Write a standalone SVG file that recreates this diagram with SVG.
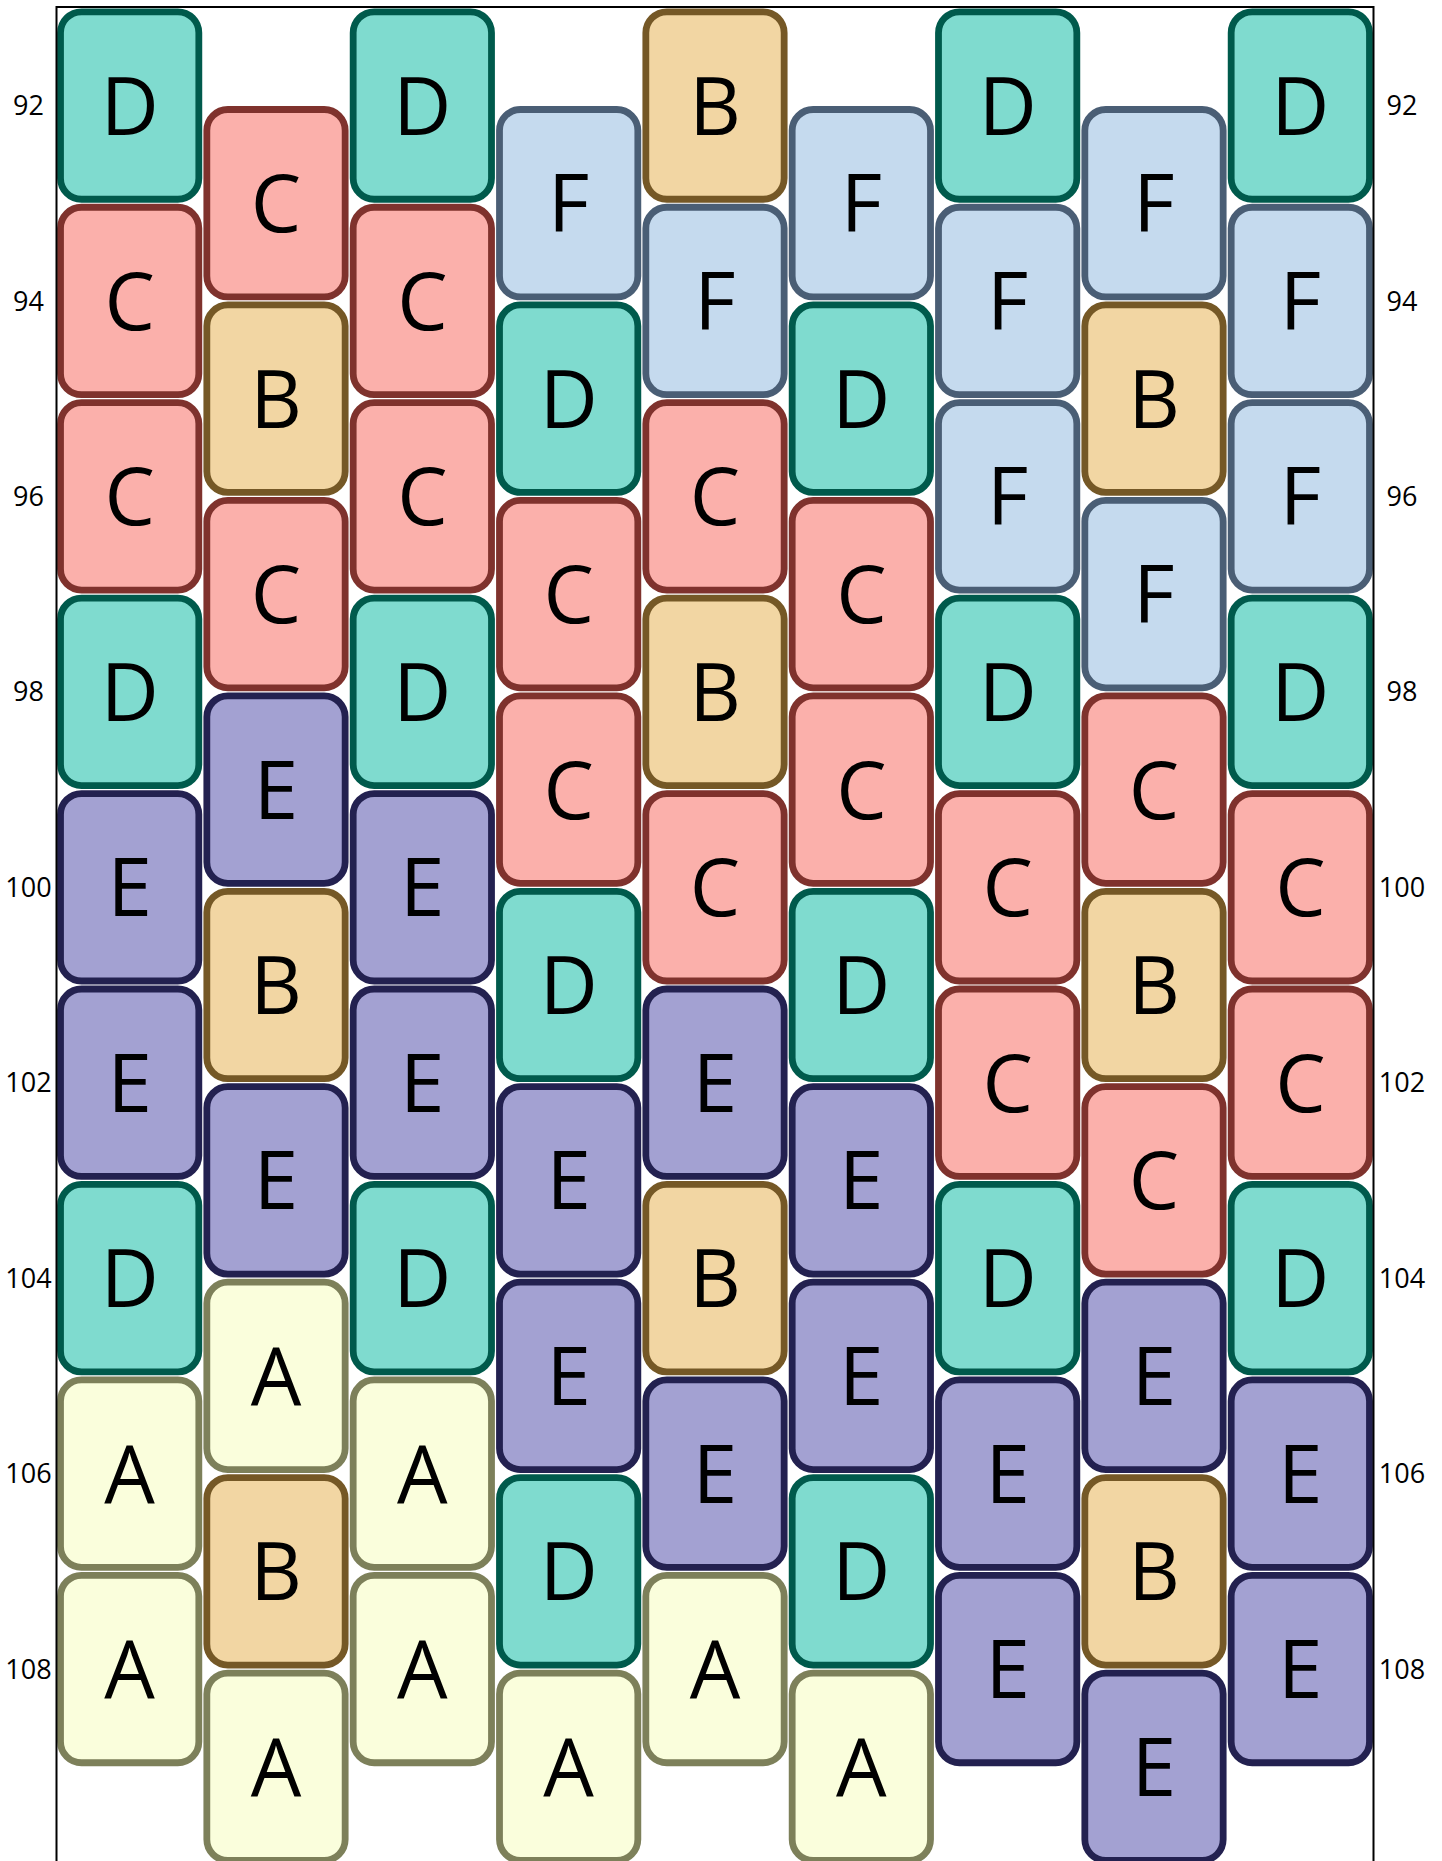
<svg xmlns="http://www.w3.org/2000/svg" width="1442" height="1861" viewBox="0 0 1442 1861">
<style>
.nd rect{stroke-width:6.8;rx:21px;ry:21px}
.A{fill:#fafedc;stroke:#7d805a}
.B{fill:#f2d6a3;stroke:#755826}
.C{fill:#fbb0ab;stroke:#7f322d}
.D{fill:#7fdbcf;stroke:#005a4c}
.E{fill:#a3a1d2;stroke:#232150}
.F{fill:#c5daee;stroke:#4a5e75}
.lbl{font-family:"Open Sans","Noto Sans","DejaVu Sans",sans-serif;font-size:80px;text-anchor:middle;fill:#000}
.tick{font-family:"Open Sans","Noto Sans","DejaVu Sans",sans-serif;font-size:27px;text-anchor:middle;fill:#000}
.frame{fill:none;stroke:#000;stroke-width:2}
</style>
<rect x="0" y="0" width="1442" height="1861" fill="#fff"/>
<g id="nodes" class="nd">
<!-- column 0 -->
<g id="c0-92"><rect class="D" x="60.5" y="11.8" width="138.33" height="187.44"/><text class="lbl" x="129.67" y="134.5">D</text></g>
<g id="c0-94"><rect class="C" x="60.5" y="207.24" width="138.33" height="187.44"/><text class="lbl" x="129.67" y="330">C</text></g>
<g id="c0-96"><rect class="C" x="60.5" y="402.68" width="138.33" height="187.44"/><text class="lbl" x="129.67" y="525.4">C</text></g>
<g id="c0-98"><rect class="D" x="60.5" y="598.12" width="138.33" height="187.44"/><text class="lbl" x="129.67" y="720.8">D</text></g>
<g id="c0-100"><rect class="E" x="60.5" y="793.56" width="138.33" height="187.44"/><text class="lbl" x="129.67" y="916.3">E</text></g>
<g id="c0-102"><rect class="E" x="60.5" y="989" width="138.33" height="187.44"/><text class="lbl" x="129.67" y="1111.7">E</text></g>
<g id="c0-104"><rect class="D" x="60.5" y="1184.44" width="138.33" height="187.44"/><text class="lbl" x="129.67" y="1307.2">D</text></g>
<g id="c0-106"><rect class="A" x="60.5" y="1379.88" width="138.33" height="187.44"/><text class="lbl" x="129.67" y="1502.6">A</text></g>
<g id="c0-108"><rect class="A" x="60.5" y="1575.32" width="138.33" height="187.44"/><text class="lbl" x="129.67" y="1698">A</text></g>
<!-- column 1 -->
<g id="c1-93"><rect class="C" x="206.83" y="109.52" width="138.33" height="187.44"/><text class="lbl" x="276" y="232.2">C</text></g>
<g id="c1-95"><rect class="B" x="206.83" y="304.96" width="138.33" height="187.44"/><text class="lbl" x="276" y="427.7">B</text></g>
<g id="c1-97"><rect class="C" x="206.83" y="500.4" width="138.33" height="187.44"/><text class="lbl" x="276" y="623.1">C</text></g>
<g id="c1-99"><rect class="E" x="206.83" y="695.84" width="138.33" height="187.44"/><text class="lbl" x="276" y="818.6">E</text></g>
<g id="c1-101"><rect class="B" x="206.83" y="891.28" width="138.33" height="187.44"/><text class="lbl" x="276" y="1014">B</text></g>
<g id="c1-103"><rect class="E" x="206.83" y="1086.72" width="138.33" height="187.44"/><text class="lbl" x="276" y="1209.4">E</text></g>
<g id="c1-105"><rect class="A" x="206.83" y="1282.16" width="138.33" height="187.44"/><text class="lbl" x="276" y="1404.9">A</text></g>
<g id="c1-107"><rect class="B" x="206.83" y="1477.6" width="138.33" height="187.44"/><text class="lbl" x="276" y="1600.3">B</text></g>
<g id="c1-109"><rect class="A" x="206.83" y="1673.04" width="138.33" height="187.44"/><text class="lbl" x="276" y="1795.8">A</text></g>
<!-- column 2 -->
<g id="c2-92"><rect class="D" x="353.17" y="11.8" width="138.33" height="187.44"/><text class="lbl" x="422.33" y="134.5">D</text></g>
<g id="c2-94"><rect class="C" x="353.17" y="207.24" width="138.33" height="187.44"/><text class="lbl" x="422.33" y="330">C</text></g>
<g id="c2-96"><rect class="C" x="353.17" y="402.68" width="138.33" height="187.44"/><text class="lbl" x="422.33" y="525.4">C</text></g>
<g id="c2-98"><rect class="D" x="353.17" y="598.12" width="138.33" height="187.44"/><text class="lbl" x="422.33" y="720.8">D</text></g>
<g id="c2-100"><rect class="E" x="353.17" y="793.56" width="138.33" height="187.44"/><text class="lbl" x="422.33" y="916.3">E</text></g>
<g id="c2-102"><rect class="E" x="353.17" y="989" width="138.33" height="187.44"/><text class="lbl" x="422.33" y="1111.7">E</text></g>
<g id="c2-104"><rect class="D" x="353.17" y="1184.44" width="138.33" height="187.44"/><text class="lbl" x="422.33" y="1307.2">D</text></g>
<g id="c2-106"><rect class="A" x="353.17" y="1379.88" width="138.33" height="187.44"/><text class="lbl" x="422.33" y="1502.6">A</text></g>
<g id="c2-108"><rect class="A" x="353.17" y="1575.32" width="138.33" height="187.44"/><text class="lbl" x="422.33" y="1698">A</text></g>
<!-- column 3 -->
<g id="c3-93"><rect class="F" x="499.5" y="109.52" width="138.33" height="187.44"/><text class="lbl" x="568.67" y="232.2">F</text></g>
<g id="c3-95"><rect class="D" x="499.5" y="304.96" width="138.33" height="187.44"/><text class="lbl" x="568.67" y="427.7">D</text></g>
<g id="c3-97"><rect class="C" x="499.5" y="500.4" width="138.33" height="187.44"/><text class="lbl" x="568.67" y="623.1">C</text></g>
<g id="c3-99"><rect class="C" x="499.5" y="695.84" width="138.33" height="187.44"/><text class="lbl" x="568.67" y="818.6">C</text></g>
<g id="c3-101"><rect class="D" x="499.5" y="891.28" width="138.33" height="187.44"/><text class="lbl" x="568.67" y="1014">D</text></g>
<g id="c3-103"><rect class="E" x="499.5" y="1086.72" width="138.33" height="187.44"/><text class="lbl" x="568.67" y="1209.4">E</text></g>
<g id="c3-105"><rect class="E" x="499.5" y="1282.16" width="138.33" height="187.44"/><text class="lbl" x="568.67" y="1404.9">E</text></g>
<g id="c3-107"><rect class="D" x="499.5" y="1477.6" width="138.33" height="187.44"/><text class="lbl" x="568.67" y="1600.3">D</text></g>
<g id="c3-109"><rect class="A" x="499.5" y="1673.04" width="138.33" height="187.44"/><text class="lbl" x="568.67" y="1795.8">A</text></g>
<!-- column 4 -->
<g id="c4-92"><rect class="B" x="645.83" y="11.8" width="138.33" height="187.44"/><text class="lbl" x="715" y="134.5">B</text></g>
<g id="c4-94"><rect class="F" x="645.83" y="207.24" width="138.33" height="187.44"/><text class="lbl" x="715" y="330">F</text></g>
<g id="c4-96"><rect class="C" x="645.83" y="402.68" width="138.33" height="187.44"/><text class="lbl" x="715" y="525.4">C</text></g>
<g id="c4-98"><rect class="B" x="645.83" y="598.12" width="138.33" height="187.44"/><text class="lbl" x="715" y="720.8">B</text></g>
<g id="c4-100"><rect class="C" x="645.83" y="793.56" width="138.33" height="187.44"/><text class="lbl" x="715" y="916.3">C</text></g>
<g id="c4-102"><rect class="E" x="645.83" y="989" width="138.33" height="187.44"/><text class="lbl" x="715" y="1111.7">E</text></g>
<g id="c4-104"><rect class="B" x="645.83" y="1184.44" width="138.33" height="187.44"/><text class="lbl" x="715" y="1307.2">B</text></g>
<g id="c4-106"><rect class="E" x="645.83" y="1379.88" width="138.33" height="187.44"/><text class="lbl" x="715" y="1502.6">E</text></g>
<g id="c4-108"><rect class="A" x="645.83" y="1575.32" width="138.33" height="187.44"/><text class="lbl" x="715" y="1698">A</text></g>
<!-- column 5 -->
<g id="c5-93"><rect class="F" x="792.17" y="109.52" width="138.33" height="187.44"/><text class="lbl" x="861.33" y="232.2">F</text></g>
<g id="c5-95"><rect class="D" x="792.17" y="304.96" width="138.33" height="187.44"/><text class="lbl" x="861.33" y="427.7">D</text></g>
<g id="c5-97"><rect class="C" x="792.17" y="500.4" width="138.33" height="187.44"/><text class="lbl" x="861.33" y="623.1">C</text></g>
<g id="c5-99"><rect class="C" x="792.17" y="695.84" width="138.33" height="187.44"/><text class="lbl" x="861.33" y="818.6">C</text></g>
<g id="c5-101"><rect class="D" x="792.17" y="891.28" width="138.33" height="187.44"/><text class="lbl" x="861.33" y="1014">D</text></g>
<g id="c5-103"><rect class="E" x="792.17" y="1086.72" width="138.33" height="187.44"/><text class="lbl" x="861.33" y="1209.4">E</text></g>
<g id="c5-105"><rect class="E" x="792.17" y="1282.16" width="138.33" height="187.44"/><text class="lbl" x="861.33" y="1404.9">E</text></g>
<g id="c5-107"><rect class="D" x="792.17" y="1477.6" width="138.33" height="187.44"/><text class="lbl" x="861.33" y="1600.3">D</text></g>
<g id="c5-109"><rect class="A" x="792.17" y="1673.04" width="138.33" height="187.44"/><text class="lbl" x="861.33" y="1795.8">A</text></g>
<!-- column 6 -->
<g id="c6-92"><rect class="D" x="938.5" y="11.8" width="138.33" height="187.44"/><text class="lbl" x="1007.67" y="134.5">D</text></g>
<g id="c6-94"><rect class="F" x="938.5" y="207.24" width="138.33" height="187.44"/><text class="lbl" x="1007.67" y="330">F</text></g>
<g id="c6-96"><rect class="F" x="938.5" y="402.68" width="138.33" height="187.44"/><text class="lbl" x="1007.67" y="525.4">F</text></g>
<g id="c6-98"><rect class="D" x="938.5" y="598.12" width="138.33" height="187.44"/><text class="lbl" x="1007.67" y="720.8">D</text></g>
<g id="c6-100"><rect class="C" x="938.5" y="793.56" width="138.33" height="187.44"/><text class="lbl" x="1007.67" y="916.3">C</text></g>
<g id="c6-102"><rect class="C" x="938.5" y="989" width="138.33" height="187.44"/><text class="lbl" x="1007.67" y="1111.7">C</text></g>
<g id="c6-104"><rect class="D" x="938.5" y="1184.44" width="138.33" height="187.44"/><text class="lbl" x="1007.67" y="1307.2">D</text></g>
<g id="c6-106"><rect class="E" x="938.5" y="1379.88" width="138.33" height="187.44"/><text class="lbl" x="1007.67" y="1502.6">E</text></g>
<g id="c6-108"><rect class="E" x="938.5" y="1575.32" width="138.33" height="187.44"/><text class="lbl" x="1007.67" y="1698">E</text></g>
<!-- column 7 -->
<g id="c7-93"><rect class="F" x="1084.83" y="109.52" width="138.33" height="187.44"/><text class="lbl" x="1154" y="232.2">F</text></g>
<g id="c7-95"><rect class="B" x="1084.83" y="304.96" width="138.33" height="187.44"/><text class="lbl" x="1154" y="427.7">B</text></g>
<g id="c7-97"><rect class="F" x="1084.83" y="500.4" width="138.33" height="187.44"/><text class="lbl" x="1154" y="623.1">F</text></g>
<g id="c7-99"><rect class="C" x="1084.83" y="695.84" width="138.33" height="187.44"/><text class="lbl" x="1154" y="818.6">C</text></g>
<g id="c7-101"><rect class="B" x="1084.83" y="891.28" width="138.33" height="187.44"/><text class="lbl" x="1154" y="1014">B</text></g>
<g id="c7-103"><rect class="C" x="1084.83" y="1086.72" width="138.33" height="187.44"/><text class="lbl" x="1154" y="1209.4">C</text></g>
<g id="c7-105"><rect class="E" x="1084.83" y="1282.16" width="138.33" height="187.44"/><text class="lbl" x="1154" y="1404.9">E</text></g>
<g id="c7-107"><rect class="B" x="1084.83" y="1477.6" width="138.33" height="187.44"/><text class="lbl" x="1154" y="1600.3">B</text></g>
<g id="c7-109"><rect class="E" x="1084.83" y="1673.04" width="138.33" height="187.44"/><text class="lbl" x="1154" y="1795.8">E</text></g>
<!-- column 8 -->
<g id="c8-92"><rect class="D" x="1231.17" y="11.8" width="138.33" height="187.44"/><text class="lbl" x="1300.33" y="134.5">D</text></g>
<g id="c8-94"><rect class="F" x="1231.17" y="207.24" width="138.33" height="187.44"/><text class="lbl" x="1300.33" y="330">F</text></g>
<g id="c8-96"><rect class="F" x="1231.17" y="402.68" width="138.33" height="187.44"/><text class="lbl" x="1300.33" y="525.4">F</text></g>
<g id="c8-98"><rect class="D" x="1231.17" y="598.12" width="138.33" height="187.44"/><text class="lbl" x="1300.33" y="720.8">D</text></g>
<g id="c8-100"><rect class="C" x="1231.17" y="793.56" width="138.33" height="187.44"/><text class="lbl" x="1300.33" y="916.3">C</text></g>
<g id="c8-102"><rect class="C" x="1231.17" y="989" width="138.33" height="187.44"/><text class="lbl" x="1300.33" y="1111.7">C</text></g>
<g id="c8-104"><rect class="D" x="1231.17" y="1184.44" width="138.33" height="187.44"/><text class="lbl" x="1300.33" y="1307.2">D</text></g>
<g id="c8-106"><rect class="E" x="1231.17" y="1379.88" width="138.33" height="187.44"/><text class="lbl" x="1300.33" y="1502.6">E</text></g>
<g id="c8-108"><rect class="E" x="1231.17" y="1575.32" width="138.33" height="187.44"/><text class="lbl" x="1300.33" y="1698">E</text></g>
</g>
<g id="connectors"/>
<g id="frame">
<path class="frame" d="M56.5,1861 V7 H1373.5 V1861"/>
</g>
<g id="ticks-left">
<text class="tick" x="28.5" y="115.1">92</text>
<text class="tick" x="28.5" y="310.6">94</text>
<text class="tick" x="28.5" y="506">96</text>
<text class="tick" x="28.5" y="701.4">98</text>
<text class="tick" x="28.5" y="896.9">100</text>
<text class="tick" x="28.5" y="1092.3">102</text>
<text class="tick" x="28.5" y="1287.8">104</text>
<text class="tick" x="28.5" y="1483.2">106</text>
<text class="tick" x="28.5" y="1678.6">108</text>
</g>
<g id="ticks-right">
<text class="tick" x="1402" y="115.1">92</text>
<text class="tick" x="1402" y="310.6">94</text>
<text class="tick" x="1402" y="506">96</text>
<text class="tick" x="1402" y="701.4">98</text>
<text class="tick" x="1402" y="896.9">100</text>
<text class="tick" x="1402" y="1092.3">102</text>
<text class="tick" x="1402" y="1287.8">104</text>
<text class="tick" x="1402" y="1483.2">106</text>
<text class="tick" x="1402" y="1678.6">108</text>
</g>
</svg>
